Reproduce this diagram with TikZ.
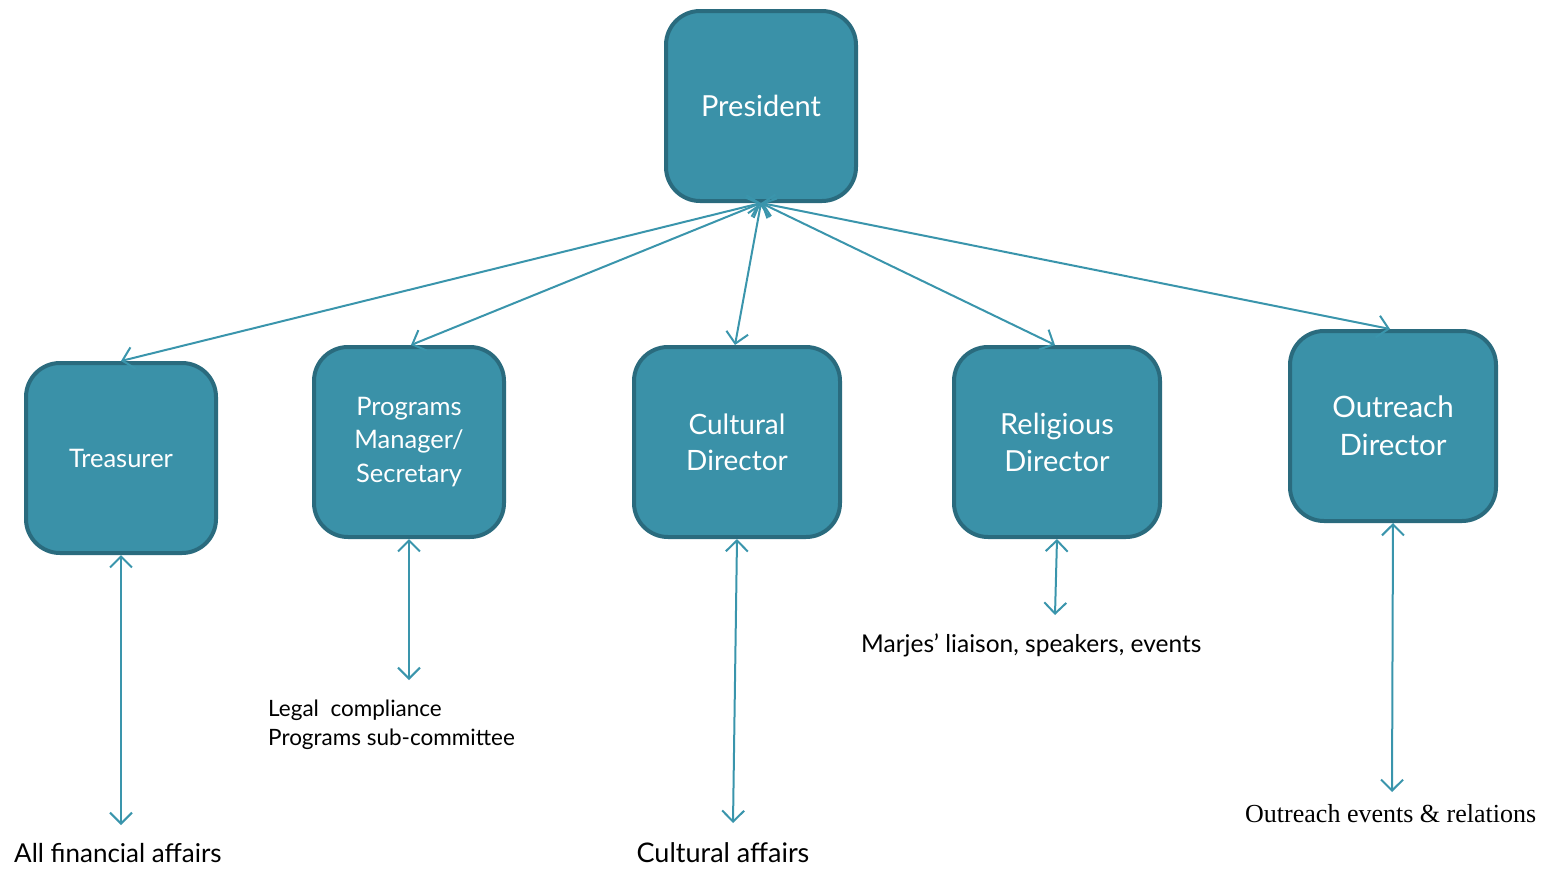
\documentclass[tikz,border=0pt]{standalone}
\usepackage{fontspec}
\setmainfont{Lato}
\newfontfamily\serifgar{Liberation Serif}
\usetikzlibrary{arrows.meta}
\definecolor{boxfill}{HTML}{3A91A8}
\definecolor{boxedge}{HTML}{2A6B7E}
\definecolor{arrowc}{HTML}{3A95AC}
\tikzset{
  orgbox/.style={draw=boxedge, fill=boxfill, line width=4pt, rounded corners=34pt,
    minimum height=190pt, text=white, align=center, inner sep=0pt},
  link/.style={draw=arrowc, line width=2pt,
    {Straight Barb[length=11pt,width=22pt]}-{Straight Barb[length=11pt,width=22pt]}},
  lbl/.style={text=black, inner sep=0pt, align=left}
}
\begin{document}
\begin{tikzpicture}[x=1pt,y=-1pt]
\useasboundingbox (0,0) rectangle (1556,868);
\node[orgbox, minimum width=190pt, font=\fontsize{29}{32}\selectfont] (pres) at (761,106) {President};
\node[orgbox, minimum width=190pt, font=\fontsize{25.5}{34}\selectfont] (treas) at (121,458) {Treasurer};
\node[orgbox, minimum width=190pt, font=\fontsize{25.5}{33.5}\selectfont] (prog) at (409,442) {Programs\\Manager/\\Secretary};
\node[orgbox, minimum width=206pt, font=\fontsize{28}{36}\selectfont] (cult) at (737,442) {Cultural\\Director};
\node[orgbox, minimum width=206pt, font=\fontsize{29}{37}\selectfont] (relig) at (1057,442) {Religious\\Director};
\node[orgbox, minimum width=206pt, font=\fontsize{29.5}{38}\selectfont] (outr) at (1393,426) {Outreach\\Director};

\draw[link] (pres.south) -- (treas.north);
\draw[link] (pres.south) -- ([xshift=2pt]prog.north);
\draw[link] (pres.south) -- ([xshift=-2pt]cult.north);
\draw[link] (pres.south) -- ([xshift=-2pt]relig.north);
\draw[link] (pres.south) -- ([xshift=-3pt]outr.north);

\node[lbl, anchor=base west, font=\fontsize{26}{30}\selectfont] (tlbl) at (14,862) {All financial affairs};
\node[lbl, anchor=north west, font=\fontsize{22.5}{29}\selectfont] (plbl) at (268,700) {Legal\ \ compliance\\Programs sub-committee};
\node[lbl, anchor=base, font=\fontsize{27}{30}\selectfont] (clbl) at (723,862) {Cultural affairs};
\node[lbl, anchor=base west, font=\fontsize{24.5}{26}\selectfont] (rlbl) at (861,652) {Marjes’ liaison, speakers, events};
\node[lbl, anchor=base west, font=\serifgar\fontsize{26}{26}\selectfont] (olbl) at (1245,822) {Outreach events \& relations};

\coordinate (tend) at (121,825);
\coordinate (pend) at (409,680);
\coordinate (cend) at (733,823);
\coordinate (rend) at (1055,615);
\coordinate (oend) at (1392,792);

\draw[link] (treas.south) -- (tend);
\draw[link] (prog.south) -- (pend);
\draw[link] (cult.south) -- (cend);
\draw[link] (relig.south) -- (rend);
\draw[link] (outr.south) -- (oend);
\end{tikzpicture}
\end{document}
